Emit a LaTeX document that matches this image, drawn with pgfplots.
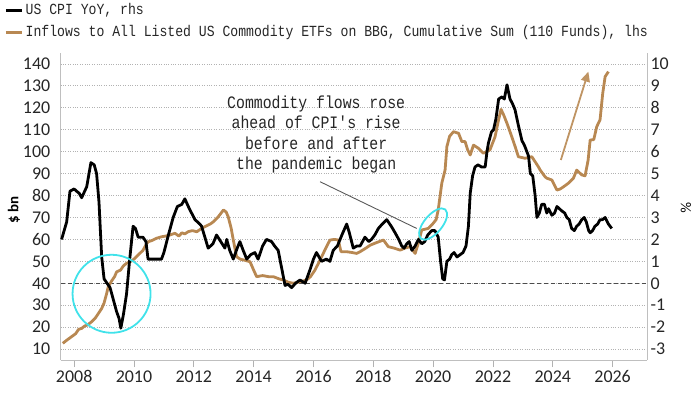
\documentclass[border=0pt]{standalone}
\usepackage{fontspec}
\setmainfont{Carlito}
\newfontfamily\bbg{Liberation Mono}[FakeStretch=0.85,Ligatures=TeXOff]
\usepackage{pgfplots}
\usepackage{pgfplotstable}
\pgfplotsset{compat=1.18}
\usetikzlibrary{arrows.meta}
\definecolor{flow}{RGB}{184,136,82}
\definecolor{cy}{RGB}{64,226,234}

\pgfplotstableread{
x y
2007.58 2.0
2007.75 2.8
2007.86 4.2
2008.00 4.3
2008.08 4.2
2008.17 4.1
2008.25 3.9
2008.42 4.4
2008.56 5.5
2008.67 5.4
2008.75 5.0
2008.83 3.7
2008.92 1.2
2009.00 0.2
2009.10 0.0
2009.20 -0.2
2009.30 -0.7
2009.42 -1.3
2009.50 -1.6
2009.56 -2.05
2009.65 -1.4
2009.75 -0.5
2009.85 1.0
2009.97 2.6
2010.05 2.5
2010.14 2.1
2010.30 2.1
2010.40 1.9
2010.47 1.1
2010.60 1.1
2010.75 1.1
2010.92 1.1
2011.00 1.4
2011.15 2.2
2011.31 3.0
2011.45 3.5
2011.60 3.6
2011.70 3.85
2011.85 3.4
2012.04 2.9
2012.20 2.7
2012.26 2.6
2012.48 1.6
2012.64 1.8
2012.76 2.2
2012.90 1.9
2013.04 1.6
2013.10 2.0
2013.20 1.5
2013.32 1.1
2013.45 1.6
2013.54 1.9
2013.65 1.5
2013.77 1.1
2013.90 1.3
2014.04 1.4
2014.15 1.1
2014.30 1.7
2014.43 2.0
2014.60 1.9
2014.70 1.7
2014.82 1.5
2014.95 0.6
2015.05 -0.1
2015.15 -0.05
2015.27 -0.2
2015.40 0.0
2015.55 0.15
2015.72 0.0
2015.88 0.6
2016.00 1.1
2016.10 1.4
2016.27 1.0
2016.43 1.1
2016.55 1.0
2016.66 1.5
2016.80 1.7
2016.95 2.2
2017.11 2.7
2017.20 2.3
2017.33 1.6
2017.45 1.7
2017.56 1.7
2017.72 2.1
2017.85 1.9
2017.94 2.0
2018.05 2.2
2018.17 2.5
2018.30 2.7
2018.45 2.9
2018.60 2.6
2018.73 2.3
2018.85 2.0
2018.95 1.7
2019.03 1.6
2019.12 1.8
2019.20 1.9
2019.29 1.5
2019.40 1.7
2019.51 2.0
2019.62 1.8
2019.72 1.9
2019.82 2.2
2019.95 2.4
2020.06 2.4
2020.17 2.1
2020.25 1.0
2020.32 0.2
2020.38 0.15
2020.46 1.0
2020.55 1.1
2020.62 1.3
2020.70 1.4
2020.80 1.2
2020.90 1.3
2021.00 1.4
2021.10 1.7
2021.18 2.6
2021.24 4.1
2021.32 4.9
2021.40 5.3
2021.50 5.4
2021.62 5.3
2021.74 5.3
2021.80 6.0
2021.85 6.4
2021.95 6.9
2022.02 7.0
2022.10 7.5
2022.19 8.4
2022.30 8.5
2022.38 8.4
2022.47 9.05
2022.57 8.4
2022.65 8.2
2022.74 7.9
2022.85 7.2
2022.97 6.5
2023.05 6.3
2023.19 5.8
2023.25 5.0
2023.33 4.9
2023.41 4.0
2023.47 3.0
2023.55 3.2
2023.63 3.6
2023.72 3.6
2023.80 3.2
2023.86 3.4
2023.97 3.1
2024.06 3.2
2024.14 3.5
2024.22 3.4
2024.30 3.3
2024.40 3.2
2024.47 3.0
2024.55 2.9
2024.63 2.5
2024.72 2.4
2024.80 2.6
2024.88 2.7
2024.97 2.9
2025.05 3.0
2025.12 2.8
2025.20 2.4
2025.25 2.3
2025.33 2.4
2025.41 2.6
2025.50 2.7
2025.58 2.9
2025.66 2.9
2025.75 3.0
2025.86 2.7
2025.97 2.5
}\cpi

\pgfplotstableread{
x y
2007.62 12.6
2007.75 14
2007.90 15.5
2008.05 17
2008.15 19
2008.25 19.4
2008.35 20.5
2008.45 21
2008.58 22.4
2008.70 24
2008.80 26
2008.92 28.5
2009.00 31
2009.08 35
2009.14 38.4
2009.25 41
2009.35 43
2009.42 45.2
2009.55 46
2009.65 48
2009.75 49.1
2009.90 50
2010.00 51
2010.14 52.9
2010.30 55
2010.40 57.5
2010.47 58.9
2010.60 59.5
2010.75 60.5
2010.92 61.2
2011.05 61.5
2011.20 62
2011.37 62.8
2011.50 61.5
2011.60 63
2011.70 62.5
2011.81 63.5
2011.95 64
2012.10 63.5
2012.26 65
2012.40 66
2012.55 67
2012.65 68
2012.80 70
2012.99 73.4
2013.08 72.5
2013.15 70.3
2013.25 65
2013.32 59.7
2013.43 52.1
2013.55 51
2013.70 50.5
2013.88 49.8
2014.00 46
2014.10 43
2014.30 43.5
2014.50 43
2014.66 43
2014.85 42
2014.99 41.5
2015.15 40.5
2015.32 40
2015.50 40.5
2015.65 41
2015.77 41.5
2015.90 43
2016.05 46
2016.20 50
2016.38 55.1
2016.55 59.7
2016.70 60
2016.83 59.7
2016.92 54.4
2017.10 54.4
2017.30 54
2017.44 53.6
2017.56 54.4
2017.75 56
2017.90 57.4
2018.10 58.5
2018.34 59.7
2018.50 56.7
2018.70 56
2018.90 55.1
2019.05 56
2019.23 56.7
2019.40 53.6
2019.50 58
2019.62 64.3
2019.84 65
2020.00 67.3
2020.10 69
2020.17 73.4
2020.29 85.6
2020.40 91.6
2020.46 102.3
2020.55 107
2020.68 109.1
2020.85 108.4
2020.96 104.6
2021.07 104.6
2021.15 101
2021.24 98.5
2021.35 103
2021.52 101.5
2021.68 99.3
2021.90 100.8
2022.07 106.8
2022.18 114
2022.27 119.3
2022.35 117
2022.47 112.9
2022.63 106.8
2022.75 102
2022.85 97.7
2023.07 97
2023.30 97.7
2023.52 93.1
2023.58 91.6
2023.74 88.6
2023.80 87.9
2023.97 87.1
2024.14 82.5
2024.25 83
2024.36 84
2024.52 85.6
2024.69 87.9
2024.80 91.6
2024.97 89.4
2025.08 89
2025.18 96
2025.25 105.3
2025.37 105.5
2025.47 111.4
2025.58 114.5
2025.67 126.6
2025.75 134.2
2025.86 136.5
}\flows

\begin{document}
\begin{tikzpicture}
\useasboundingbox (-60.7bp,-34bp) rectangle (639.3bp,360bp);
\pgfplotsset{
  base/.style={
    scale only axis, width=586.3bp, height=307bp,
    xmin=2007.55, xmax=2027.15,
    axis line style={draw=black!25, line width=0.8bp},
    tick label style={font=\fontsize{18}{20}\selectfont, text=black!85},
    /pgf/number format/assume math mode=true,
    ytick style={draw=none},
    clip=false,
  }
}
\begin{axis}[base,
  ymin=5, ymax=145,
  axis x line*=bottom, axis y line*=left,
  xtick={2008,2010,...,2026},
  xticklabel style={/pgf/number format/1000 sep=},
  ytick={10,20,...,140},
  tick align=outside, major tick length=7bp,
  xtick style={draw=black!30, line width=0.8bp},
  ymajorgrids, grid style={dotted, black!30, line width=0.9bp},
  ylabel={\textbf{\$ bn}},
  ylabel style={at={(axis description cs:-0.0797,0.489)}, rotate=0, anchor=center, font=\fontsize{15}{17}\selectfont},
]
\draw[black!70, line width=1.3bp, dash pattern=on 4bp off 3bp] (axis cs:2007.55,40) -- (axis cs:2027.15,40);
\addplot[flow, line width=2.8bp, line join=round] table {\flows};
\draw[flow!90, line width=1.8bp, -{Triangle[length=10bp,width=9bp]}] (axis cs:2024.27,96.2) -- (axis cs:2025.19,136.5);
\node[font=\bbg\fontsize{17.5}{20.3}\selectfont, align=center, text=black!85] at (axis cs:2016.09,107.8)
  {Commodity flows rose\\ahead of CPI's rise\\before and after\\the pandemic began};
\draw[black!65, line width=0.9bp] (axis cs:2016.22,86.3) -- (axis cs:2019.45,65.0);
\end{axis}
\begin{axis}[base,
  ymin=-3.5, ymax=10.5,
  axis x line=none, axis y line*=right,
  ytick={-3,-2,...,10},
  ylabel={\%},
  ylabel style={at={(axis description cs:1.0665,0.495)}, rotate=180, anchor=center, font=\fontsize{15}{17}\selectfont},
  legend style={at={(axis description cs:-0.0967,1.166)}, anchor=north west, draw=none, fill=none,
    inner sep=0pt, row sep=5bp, font=\bbg\fontsize{15.5}{17}\selectfont,
    nodes={inner sep=2bp, text height=10bp, text depth=3bp, text=black!85}},
  legend cell align=left,
  legend image code/.code={\draw[#1, line width=3.5bp] (0bp,0bp) -- (16bp,0bp);},
]
\addlegendimage{black}
\addlegendentry{US CPI YoY, rhs}
\addlegendimage{flow}
\addlegendentry{Inflows to All Listed US Commodity ETFs on BBG, Cumulative Sum (110 Funds), lhs}
\addplot[black, line width=2.8bp, line join=round, forget plot] table {\cpi};
\draw[cy, line width=1.8bp] (axis cs:2009.25,-0.48) ellipse [x radius=39bp, y radius=39bp];
\draw[cy, line width=1.8bp, rotate around={50:(axis cs:2020.0,2.7)}] (axis cs:2020.0,2.7) ellipse [x radius=19bp, y radius=9bp];
\end{axis}
\end{tikzpicture}
\end{document}
